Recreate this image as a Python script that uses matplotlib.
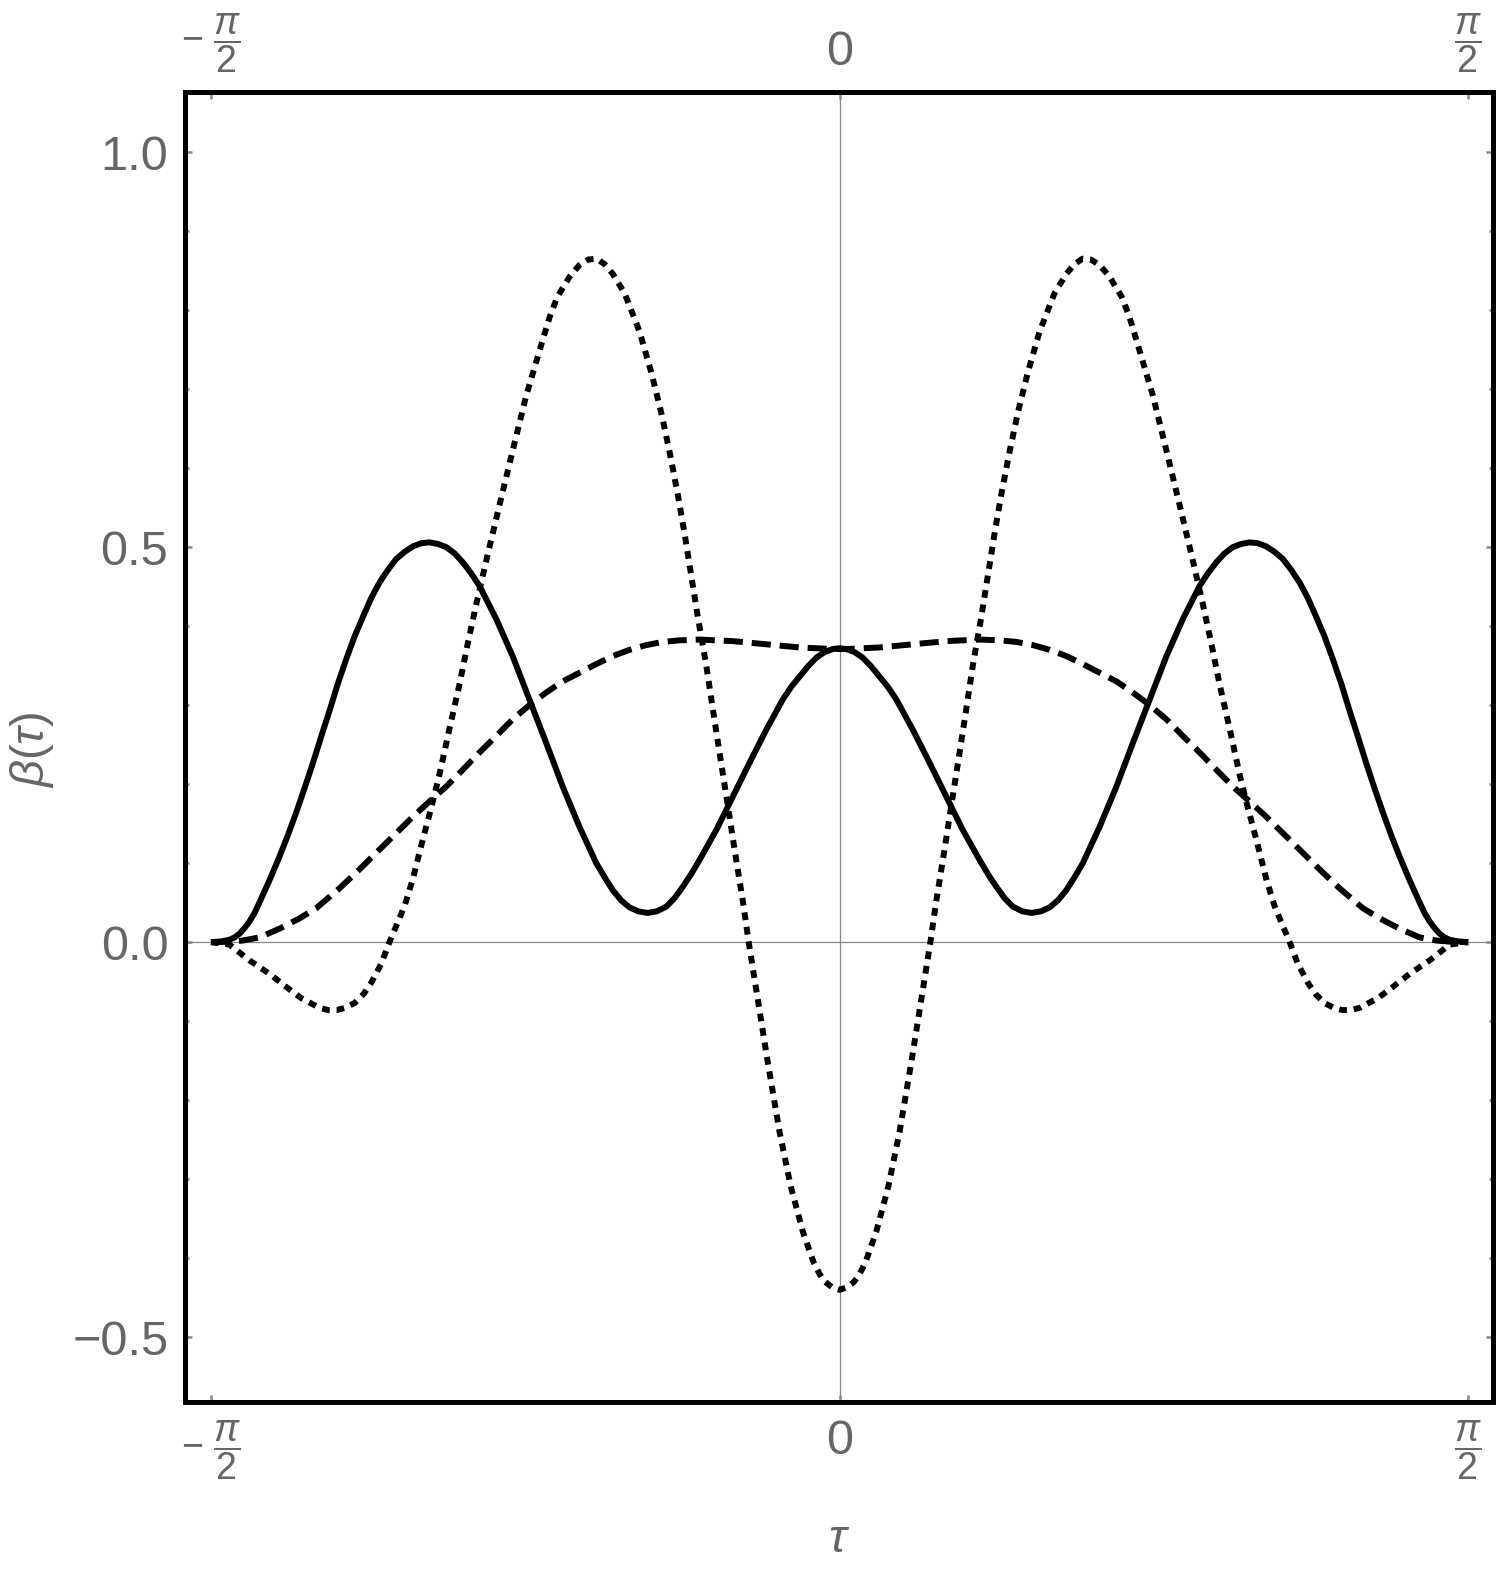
import numpy as np
import matplotlib
matplotlib.use('Agg')
import matplotlib.pyplot as plt
from matplotlib.ticker import FixedLocator, MultipleLocator

plt.rcParams['font.family'] = ['Liberation Sans', 'DejaVu Sans']
plt.rcParams['mathtext.fontset'] = 'custom'
plt.rcParams['mathtext.rm'] = 'Liberation Sans'
plt.rcParams['mathtext.it'] = 'Liberation Sans:italic'
plt.rcParams['mathtext.bf'] = 'Liberation Sans:bold'

# values for tau <= 0; every curve is even in tau
tau_solid = [-1.571, -1.545, -1.525, -1.512, -1.499, -1.487, -1.475, -1.462, -1.450,
             -1.425, -1.400, -1.379, -1.358, -1.337, -1.316, -1.295, -1.274, -1.254,
             -1.233, -1.212, -1.191, -1.171, -1.150, -1.129, -1.108, -1.087, -1.066,
             -1.045, -1.025, -1.004, -0.983, -0.962, -0.942, -0.921, -0.900, -0.858,
             -0.817, -0.775, -0.733, -0.692, -0.650, -0.608, -0.587, -0.567, -0.546,
             -0.525, -0.503, -0.480, -0.457, -0.433, -0.412, -0.392, -0.371, -0.350,
             -0.308, -0.267, -0.225, -0.183, -0.142, -0.121, -0.100, -0.079, -0.058,
             -0.038, -0.017, 0.0]
beta_solid = [0.000, 0.001, 0.003, 0.006, 0.011, 0.018, 0.026, 0.037, 0.050,
              0.078, 0.108, 0.135, 0.164, 0.195, 0.227, 0.261, 0.294, 0.327,
              0.358, 0.387, 0.412, 0.435, 0.455, 0.471, 0.485, 0.494, 0.501,
              0.505, 0.506, 0.504, 0.500, 0.492, 0.481, 0.467, 0.451, 0.409,
              0.362, 0.307, 0.252, 0.197, 0.146, 0.100, 0.082, 0.066, 0.053,
              0.044, 0.039, 0.037, 0.039, 0.045, 0.056, 0.070, 0.086, 0.104,
              0.142, 0.184, 0.227, 0.269, 0.307, 0.323, 0.336, 0.349, 0.360,
              0.367, 0.371, 0.372]

tau_dashed = [-1.571, -1.530, -1.492, -1.450, -1.400, -1.350, -1.308, -1.250, -1.200,
              -1.150, -1.108, -1.066, -1.025, -0.983, -0.942, -0.900, -0.858, -0.817,
              -0.775, -0.733, -0.692, -0.650, -0.608, -0.567, -0.525, -0.483, -0.442,
              -0.400, -0.350, -0.308, -0.267, -0.225, -0.183, -0.142, -0.100, -0.058,
              -0.017, 0.0]
beta_dashed = [0.000, 0.0005, 0.002, 0.006, 0.017, 0.030, 0.043, 0.068, 0.092,
               0.117, 0.138, 0.159, 0.178, 0.197, 0.218, 0.240, 0.261, 0.282,
               0.300, 0.316, 0.330, 0.341, 0.352, 0.362, 0.370, 0.376, 0.380,
               0.382, 0.383, 0.382, 0.381, 0.379, 0.377, 0.375, 0.373, 0.372,
               0.371, 0.371]

tau_dotted = [-1.571, -1.525, -1.475, -1.425, -1.382, -1.345, -1.300, -1.278, -1.257,
              -1.235, -1.212, -1.190, -1.170, -1.145, -1.125, -1.105, -1.087, -1.067,
              -1.042, -1.020, -1.000, -0.975, -0.950, -0.930, -0.907, -0.882, -0.850,
              -0.817, -0.783, -0.742, -0.724, -0.705, -0.675, -0.650, -0.628, -0.607,
              -0.587, -0.567, -0.537, -0.500, -0.471, -0.446, -0.425, -0.404, -0.387,
              -0.371, -0.354, -0.333, -0.317, -0.300, -0.279, -0.262, -0.242, -0.227,
              -0.207, -0.180, -0.150, -0.122, -0.092, -0.065, -0.050, -0.036, -0.018,
              0.0]
beta_dotted = [0.000, -0.003, -0.023, -0.040, -0.057, -0.071, -0.083, -0.086, -0.086,
               -0.083, -0.077, -0.066, -0.051, -0.027, 0.000, 0.024, 0.046, 0.079,
               0.129, 0.171, 0.212, 0.270, 0.326, 0.376, 0.430, 0.485, 0.553,
               0.622, 0.692, 0.762, 0.792, 0.817, 0.842, 0.857, 0.864, 0.865,
               0.858, 0.846, 0.821, 0.773, 0.722, 0.671, 0.621, 0.566, 0.516,
               0.465, 0.411, 0.350, 0.296, 0.240, 0.172, 0.116, 0.053, 0.000,
               -0.064, -0.150, -0.240, -0.309, -0.366, -0.405, -0.420, -0.430, -0.437,
               -0.440]

x_ticks = [-np.pi / 2, 0, np.pi / 2]
x_ticklabels = ['$\u2212\\ \\dfrac{\\pi}{2}$', '0', r'$\dfrac{\pi}{2}$']
y_ticks = [-0.5, 0.0, 0.5, 1.0]
y_ticklabels = ['\u22120.5', '0.0', '0.5', '1.0']


def both_sides(t, b):
    t = np.asarray(t)
    b = np.asarray(b)
    return np.concatenate([t, -t[-2::-1]]), np.concatenate([b, b[-2::-1]])


fig = plt.figure(figsize=(15, 15.7), dpi=100)
ax = fig.add_axes([0.1233, 0.107, 0.872, 0.8344])

gray = '#888888'
ax.axhline(0, color=gray, lw=0.9, zorder=1)
ax.axvline(0, color=gray, lw=0.9, zorder=1)

lw = 4.3
t, b = both_sides(tau_solid, beta_solid)
ax.plot(t, b, color='black', lw=lw, solid_capstyle='butt', solid_joinstyle='round', zorder=3)
t, b = both_sides(tau_dashed, beta_dashed)
ax.plot(t, b, color='black', lw=lw, linestyle=(0, (3.2, 1.5)), dash_capstyle='butt', zorder=3)
t, b = both_sides(tau_dotted, beta_dotted)
ax.plot(t, b, color='black', lw=lw, linestyle=(0, (1.3, 1.15)), dash_capstyle='butt', zorder=3)

ax.set_xlim(-1.636, 1.633)
ax.set_ylim(-0.582, 1.076)

ax.xaxis.set_major_locator(FixedLocator(x_ticks))
ax.set_xticklabels(x_ticklabels)
ax.set_yticks(y_ticks)
ax.set_yticklabels(y_ticklabels)
ax.yaxis.set_minor_locator(MultipleLocator(0.1))

ax.tick_params(axis='both', which='both', direction='in', color=gray,
               labelcolor='#666666', labelsize=35, top=True, right=True,
               labeltop=True, width=1.8)
ax.tick_params(axis='both', which='major', length=5, pad=12)
ax.tick_params(axis='both', which='minor', length=3)

# the pi/2 fractions are set a bit smaller than the digits
for i, tick in enumerate(ax.xaxis.get_major_ticks()):
    if i != 1:
        tick.label1.set_fontsize(27)
        tick.label2.set_fontsize(27)

for s in ax.spines.values():
    s.set_linewidth(3.6)
    s.set_color('black')

ax.text(-0.117, 0.498, r'$\beta(\tau)$', transform=ax.transAxes, rotation=90,
        ha='center', va='center', fontsize=34, color='#666666')
ax.text(0.5, -0.105, r'$\tau$', transform=ax.transAxes,
        ha='center', va='center', fontsize=34, color='#666666')

fig.savefig('out.png', dpi=100)
